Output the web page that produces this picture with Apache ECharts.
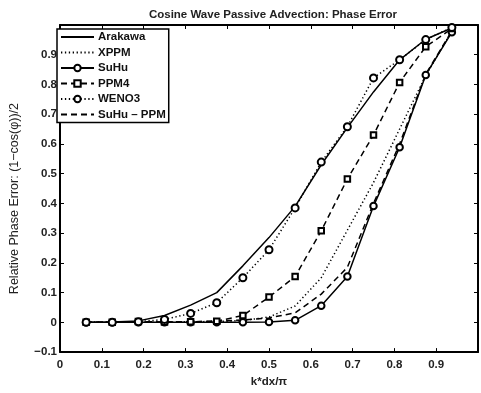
<!DOCTYPE html>
<html>
<head>
<meta charset="utf-8">
<script src="https://cdn.jsdelivr.net/npm/echarts@6/dist/echarts.min.js"></script>
<style>
  html, body { margin: 0; padding: 0; background: #fff; }
  #chart { width: 481px; height: 393px; }
</style>
</head>
<body>
<div id="chart"></div>
<script>
// Normalised wavenumber k*dx/pi at which each scheme was evaluated
const kdx = [0.0625, 0.125, 0.1875, 0.25, 0.3125, 0.375, 0.4375, 0.5,
             0.5625, 0.625, 0.6875, 0.75, 0.8125, 0.875, 0.9375];

// Relative phase error (1 - cos(phi)) / 2 per scheme
const arakawa = [0, 0.001, 0.005, 0.023, 0.058, 0.100, 0.190, 0.285,
                 0.390, 0.530, 0.655, 0.775, 0.883, 0.952, 0.990];
const xppm    = [0, 0, 0.0005, 0.001, 0.002, 0.003, 0.006, 0.018,
                 0.055, 0.150, 0.310, 0.470, 0.650, 0.830, 0.980];
const suhu    = [0, 0, 0, 0, 0, 0, 0, 0.001,
                 0.007, 0.056, 0.154, 0.391, 0.589, 0.832, 0.976];
const ppm4    = [0, 0, 0.003, 0.001, 0.002, 0.004, 0.023, 0.085,
                 0.154, 0.308, 0.482, 0.630, 0.807, 0.927, 0.988];
const weno3   = [0, 0, 0.002, 0.010, 0.030, 0.066, 0.150, 0.244,
                 0.385, 0.539, 0.658, 0.822, 0.883, 0.951, 0.992];
const suhuPpm = [0, 0, 0, 0.001, 0.002, 0.004, 0.008, 0.015,
                 0.032, 0.095, 0.185, 0.400, 0.600, 0.835, 0.980];

const seriesNames = ['Arakawa', 'XPPM', 'SuHu', 'PPM4', 'WENO3', 'SuHu \u2013 PPM'];
const hasMarker   = [false, false, true, true, true, false];

const pairs = ys => kdx.map((x, i) => [x, ys[i]]);

const FONT = 'Liberation Sans, Arial, Helvetica, sans-serif';
const DOT = [1.3, 2.6];
const DASH = [6, 4];

function lineSeries(name, ys, dash, symbol, size) {
  return {
    name: name,
    type: 'line',
    data: pairs(ys),
    symbol: symbol || 'none',
    symbolSize: size || 6,
    showSymbol: !!symbol,
    showAllSymbol: true,
    animation: false,
    lineStyle: { color: '#000', width: 1.5, type: dash },
    itemStyle: { color: '#000', borderWidth: 1.5 },
    emphasis: { disabled: true }
  };
}

function tickFmt(v) {
  if (v > 0.995) return '';
  const r = Math.round(v * 10) / 10;
  if (r === 0) return '0';
  return (r < 0 ? '\u2212' : '') + Math.abs(r).toFixed(1);
}

const axisCommon = {
  type: 'value',
  interval: 0.1,
  splitLine: { show: false },
  axisLine: { show: true, onZero: false, lineStyle: { color: '#000', width: 2 } },
  axisTick: { show: true, inside: true, length: 4, lineStyle: { color: '#000', width: 1 } }
};

const tickText = { fontFamily: FONT, fontSize: 11.5, fontWeight: 'bold', color: '#222' };

const chart = echarts.init(document.getElementById('chart'), null, { renderer: 'canvas' });
chart.setOption({
  backgroundColor: '#fff',
  animation: false,
  title: {
    text: 'Cosine Wave Passive Advection: Phase Error',
    left: 268, top: 4, textAlign: 'center',
    textStyle: { fontFamily: FONT, fontSize: 11.5, fontWeight: 'bold', color: '#222' }
  },
  grid: { left: 54, right: -2, top: 25, bottom: 30, containLabel: false },
  legend: {
    orient: 'vertical',
    left: 57, top: 29,
    data: seriesNames.map((n, i) => hasMarker[i] ? { name: n } : { name: n, itemStyle: { opacity: 0 } }),
    itemWidth: 33, itemHeight: 8, itemGap: 3.5,
    padding: [2, 3, 2, 3],
    borderColor: '#000', borderWidth: 1.5,
    backgroundColor: '#fff',
    selectedMode: false,
    textStyle: { fontFamily: FONT, fontSize: 11.5, fontWeight: 'bold', color: '#111', padding: [0, 0, 0, -1] }
  },
  xAxis: [
    Object.assign({}, axisCommon, {
      min: 0, max: 1, position: 'bottom',
      name: 'k*dx/\u03c0', nameLocation: 'middle', nameGap: 22,
      nameTextStyle: { fontFamily: FONT, fontSize: 11.5, fontWeight: 'bold', color: '#222' },
      axisLabel: Object.assign({ formatter: tickFmt, margin: 7 }, tickText)
    }),
    Object.assign({}, axisCommon, {
      min: 0, max: 1, position: 'top', axisLabel: { show: false }
    })
  ],
  yAxis: [
    Object.assign({}, axisCommon, {
      min: -0.1, max: 1, position: 'left',
      name: 'Relative Phase Error: (1\u2212cos(\u03c6))/2', nameLocation: 'middle', nameGap: 39,
      nameTextStyle: { fontFamily: FONT, fontSize: 12.5, fontWeight: 'normal', color: '#222', padding: [0, 0, 0, -20] },
      axisLabel: Object.assign({ formatter: tickFmt, margin: 3 }, tickText)
    }),
    Object.assign({}, axisCommon, {
      min: -0.1, max: 1, position: 'right', axisLabel: { show: false }
    })
  ],
  series: [
    lineSeries(seriesNames[0], arakawa, 'solid'),
    lineSeries(seriesNames[1], xppm, DOT),
    lineSeries(seriesNames[2], suhu, 'solid', 'emptyCircle', 6.5),
    lineSeries(seriesNames[3], ppm4, DASH, 'emptyRect', 5.5),
    lineSeries(seriesNames[4], weno3, DOT, 'emptyCircle', 7),
    lineSeries(seriesNames[5], suhuPpm, DASH)
  ]
});
</script>
</body>
</html>
